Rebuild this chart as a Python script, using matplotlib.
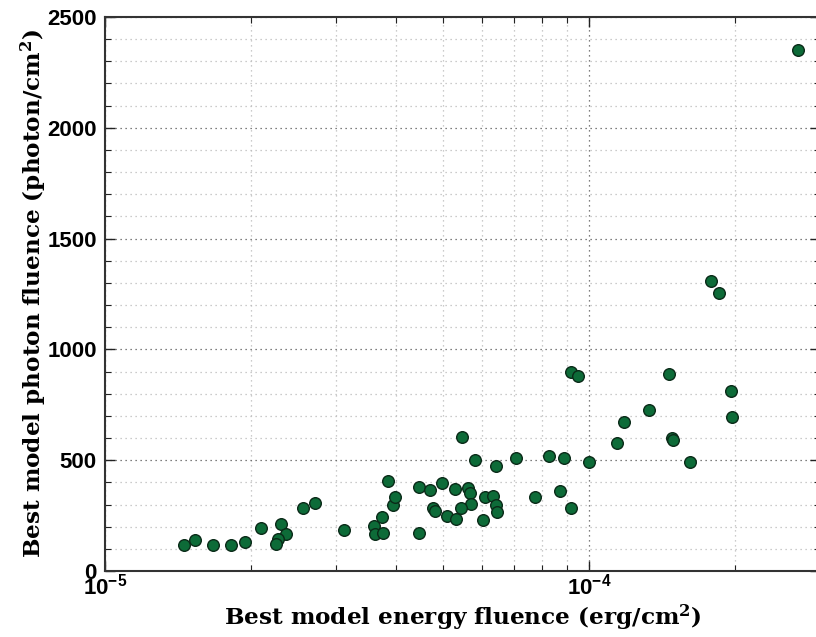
import matplotlib
matplotlib.use("Agg")
import matplotlib.pyplot as plt
from matplotlib.ticker import LogLocator, MultipleLocator, FixedLocator

# Best-fit model fluences per burst
energy_fluence = [
    1.457e-5, 1.535e-5, 1.674e-5, 1.817e-5, 1.942e-5, 2.096e-5, 2.313e-5,
    2.362e-5, 2.272e-5, 2.251e-5, 2.566e-5, 2.710e-5, 3.110e-5, 3.591e-5,
    3.604e-5, 3.750e-5, 3.730e-5, 3.835e-5, 3.942e-5, 3.968e-5, 4.447e-5,
    4.447e-5, 4.693e-5, 4.962e-5, 5.274e-5, 5.623e-5, 5.664e-5, 5.696e-5,
    5.445e-5, 4.756e-5, 4.802e-5, 5.096e-5, 5.302e-5, 5.474e-5, 5.819e-5,
    6.413e-5, 6.106e-5, 6.343e-5, 6.425e-5, 6.462e-5, 6.040e-5, 7.056e-5,
    8.269e-5, 8.867e-5, 1.0014e-4, 7.723e-5, 8.700e-5, 9.166e-5, 9.166e-5,
    9.500e-5, 1.1425e-4, 1.1801e-4, 1.3323e-4, 1.4634e-4, 1.4844e-4,
    1.4879e-4, 1.6172e-4, 1.9654e-4, 1.9776e-4, 2.6994e-4, 1.7890e-4,
    1.8531e-4,
]
photon_fluence = [
    117, 140, 117, 117, 131, 193, 214,
    167, 144, 122, 286, 308, 183, 204,
    166, 172, 244, 406, 297, 333, 380,
    171, 365, 396, 369, 376, 350, 303,
    284, 285, 272, 249, 236, 604, 503,
    474, 333, 338, 297, 264, 232, 510,
    520, 510, 493, 333, 360, 286, 899,
    879, 578, 672, 728, 890, 602,
    591, 493, 811, 696, 2351, 1310,
    1253,
]

x_label = r"Best model energy fluence (erg/cm$^{\mathbf{2}}$)"
y_label = r"Best model photon fluence (photon/cm$^{\mathbf{2}}$)"
y_ticks = [0, 500, 1000, 1500, 2000, 2500]

plt.rcParams["font.family"] = ["Liberation Sans", "DejaVu Sans"]
plt.rcParams["font.weight"] = "bold"
plt.rcParams["mathtext.fontset"] = "dejavuserif"

fig = plt.figure(figsize=(8.16, 6.37), dpi=100)
ax = fig.add_axes([105 / 816, 66 / 637, 715 / 816, 554 / 637])

ax.scatter(energy_fluence, photon_fluence, s=70, c="#0d6b38",
           edgecolors="#0a2a18", linewidths=1.0, zorder=3)

ax.set_xscale("log")
ax.set_xlim(1e-5, 3e-4)
ax.set_ylim(0, 2500)

ax.yaxis.set_major_locator(FixedLocator(y_ticks))
ax.yaxis.set_minor_locator(MultipleLocator(100))
ax.xaxis.set_major_locator(LogLocator(base=10))
ax.xaxis.set_minor_locator(LogLocator(base=10, subs=range(2, 10)))

ax.grid(which="major", linestyle=(0, (1, 3)), color="#555555", linewidth=0.9)
ax.grid(which="minor", linestyle=(0, (1, 3)), color="#bbbbbb", linewidth=0.9)
ax.set_axisbelow(True)

ax.tick_params(which="both", direction="in", top=True, right=True,
               colors="#222222", labelcolor="black")
ax.tick_params(which="major", length=7, width=1.0, labelsize=16)
ax.tick_params(which="minor", length=4, width=0.8)
ax.tick_params(axis="x", pad=2)
ax.tick_params(axis="y", pad=6)

for side in ax.spines.values():
    side.set_linewidth(1.5)
    side.set_color("#333333")

label_font = dict(family="DejaVu Serif", weight="bold", size=16.7)
ax.set_xlabel(x_label, fontdict=label_font, labelpad=2)
ax.set_ylabel(y_label, fontdict=label_font, labelpad=-1)

fig.savefig("out.png", dpi=100)
